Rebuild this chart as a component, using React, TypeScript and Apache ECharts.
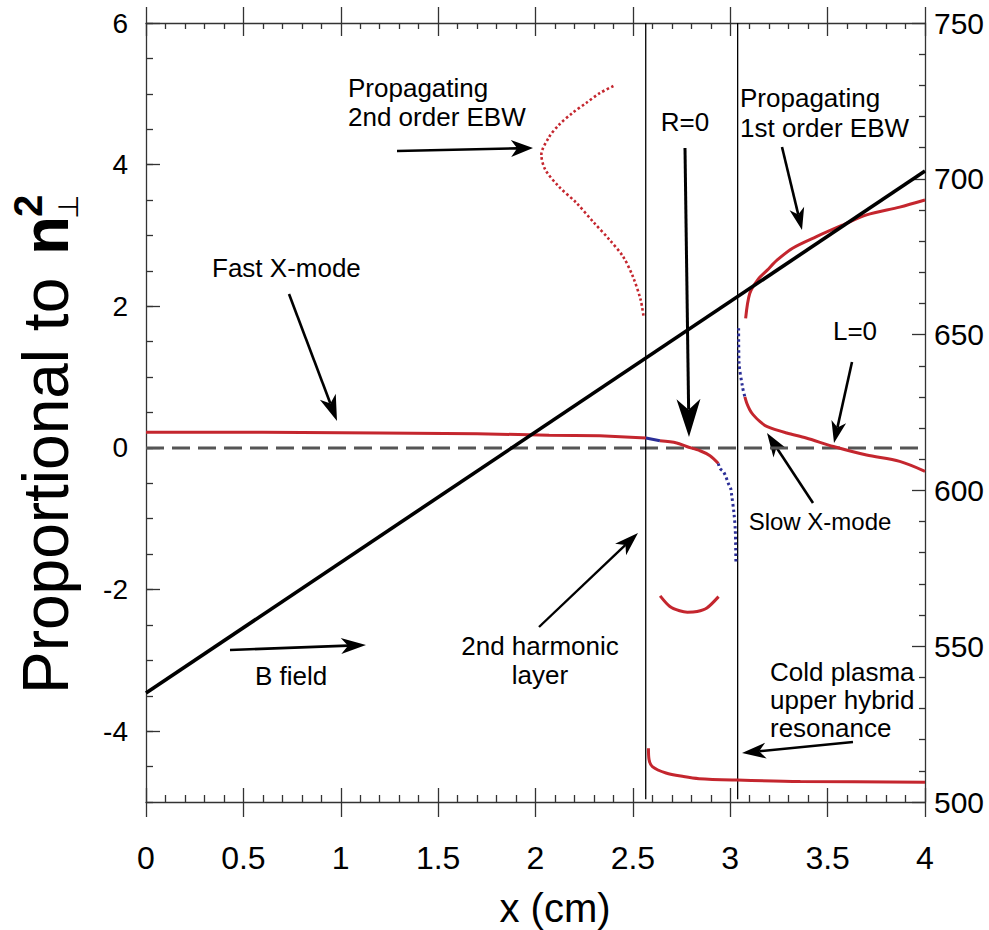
import { useEffect, useRef } from "react";
import * as echarts from "echarts";

// ---- tick labels ----
const xTickValues = [0, 0.5, 1, 1.5, 2, 2.5, 3, 3.5, 4];
const leftTickLabels = [-4, -2, 0, 2, 4, 6];
const rightTickLabels = [500, 550, 600, 650, 700, 750];

// ---- data (x in cm, y proportional to n_perp^2) ----
const fastXRed = [
  [0, 0.22], [0.6, 0.22], [1.2, 0.21], [1.7, 0.2], [2.07, 0.18], [2.33, 0.17], [2.567, 0.14],
];
const fastXBlue = [[2.567, 0.14], [2.639, 0.1]];
const fastXRed2 = [
  [2.639, 0.1], [2.725, 0.07], [2.776, 0.02], [2.845, -0.04], [2.896, -0.11], [2.939, -0.22],
];
const fastXBlue2 = [
  [2.939, -0.22], [2.947, -0.29], [2.964, -0.33], [2.978, -0.41], [2.99, -0.5], [3.002, -0.57],
  [3.007, -0.66], [3.019, -0.92], [3.026, -1.17], [3.029, -1.63],
];
const slowXBlue = [[3.043, 1.69], [3.045, 1.21], [3.063, 0.86], [3.075, 0.72]];
const slowXRed = [
  [3.075, 0.72], [3.085, 0.63], [3.1, 0.54], [3.117, 0.47], [3.153, 0.37], [3.19, 0.3],
  [3.29, 0.21], [3.39, 0.14], [3.53, 0.02], [3.7, -0.1], [3.87, -0.19], [4.0, -0.33],
];
const ebw1 = [
  [3.079, 1.83], [3.1, 2.18], [3.14, 2.37], [3.19, 2.51], [3.24, 2.65], [3.32, 2.82],
  [3.44, 2.98], [3.58, 3.15], [3.7, 3.29], [3.87, 3.4], [4.0, 3.5],
];
const ebw2 = [
  [2.4, 5.11], [2.33, 5.01], [2.26, 4.87], [2.19, 4.73], [2.12, 4.56], [2.07, 4.39], [2.03, 4.14],
  [2.05, 3.93], [2.12, 3.69], [2.21, 3.46], [2.3, 3.18], [2.38, 2.94], [2.45, 2.7], [2.5, 2.42],
  [2.54, 2.09], [2.555, 1.85],
];
const harmonicArc = [
  [2.64, -2.09], [2.69, -2.24], [2.74, -2.3], [2.78, -2.32], [2.83, -2.31], [2.88, -2.26], [2.94, -2.1],
];
const upperHybrid = [
  [2.58, -4.24], [2.583, -4.4], [2.6, -4.5], [2.67, -4.59], [2.76, -4.64], [2.84, -4.67],
  [3.035, -4.69], [3.36, -4.71], [4.0, -4.72],
];
const bField = [[0, 535], [4, 702.5]]; // right axis
const zeroLine = [[0, 0], [4, 0]];
const harmonicLayerX = 2.566;
const uhResonanceX = 3.038;

const RED = "#c4262e";
const BLUE = "#2b2e97";
const FONT = "'Liberation Sans', Arial, Helvetica, sans-serif";

function arrow(x1: number, y1: number, x2: number, y2: number, hl: number, hw: number, lw: number) {
  const dx = x2 - x1, dy = y2 - y1;
  const L = Math.hypot(dx, dy);
  const ux = dx / L, uy = dy / L;
  const px = -uy, py = ux;
  const bx = x2 - ux * hl, by = y2 - uy * hl;
  const nx = x2 - ux * hl * 0.72, ny = y2 - uy * hl * 0.72;
  return [
    { type: "line", silent: true, shape: { x1, y1, x2: nx, y2: ny }, style: { stroke: "#000", lineWidth: lw } },
    {
      type: "polygon", silent: true,
      shape: { points: [[x2, y2], [bx + (px * hw) / 2, by + (py * hw) / 2], [nx, ny], [bx - (px * hw) / 2, by - (py * hw) / 2]] },
      style: { fill: "#000" },
    },
  ];
}

function label(text: string, x: number, y: number, align = "left", size = 26) {
  return {
    type: "text", silent: true, x, y,
    style: { text, fontSize: size, fontFamily: FONT, fill: "#000", align, verticalAlign: "middle" },
  };
}

function curve(data: number[][], color: string, width: number, dash?: number[], smooth = 0) {
  return {
    type: "line", data, xAxisIndex: 0, yAxisIndex: 0, showSymbol: false, smooth,
    lineStyle: { color, width, type: dash ? dash : "solid", cap: "butt" },
    silent: true, z: 3,
  };
}

export default function App() {
  const ref = useRef<HTMLDivElement>(null);
  useEffect(() => {
    if (!ref.current) return;
    const chart = echarts.init(ref.current, undefined, { renderer: "svg" });
    const axisLineStyle = { color: "#333", width: 1.3 };
    const tickStyle = { color: "#333", width: 1.3 };
    const baseX = { type: "value", min: 0, max: 4, interval: 0.5, splitLine: { show: false } };
    const graphics: any[] = [
      // y axis title
      { type: "text", silent: true, x: 46, y: 694, rotation: Math.PI / 2,
        style: { text: "Proportional to", fontSize: 64, fontFamily: FONT, fill: "#000", align: "left", verticalAlign: "middle" } },
      { type: "text", silent: true, x: 46, y: 255, rotation: Math.PI / 2,
        style: { text: "n", fontSize: 64, fontWeight: "bold", fontFamily: FONT, fill: "#000", align: "left", verticalAlign: "middle" } },
      { type: "text", silent: true, x: 28, y: 217, rotation: Math.PI / 2,
        style: { text: "2", fontSize: 40, fontWeight: "bold", fontFamily: FONT, fill: "#000", align: "left", verticalAlign: "middle" } },
      { type: "text", silent: true, x: 68, y: 219, rotation: Math.PI / 2,
        style: { text: "⊥", fontSize: 28, fontFamily: "'DejaVu Sans', sans-serif", fill: "#000", align: "left", verticalAlign: "middle" } },
      // x axis title
      { type: "text", silent: true, x: 555, y: 908,
        style: { text: "x (cm)", fontSize: 40, fontFamily: FONT, fill: "#000", align: "center", verticalAlign: "middle" } },
      // annotations
      label("Propagating", 348, 88),
      label("2nd order EBW", 348, 117),
      ...arrow(397, 151, 533, 148, 22, 17, 2.6),
      label("R=0", 685, 122, "center"),
      ...arrow(685, 148, 689, 437, 38, 24, 3),
      label("Propagating", 740, 98),
      label("1st order EBW", 740, 128),
      ...arrow(782, 147, 802, 230, 22, 15, 2.6),
      label("Fast X-mode", 212, 268),
      ...arrow(289, 294, 337, 421, 26, 17, 2.6),
      label("L=0", 855, 331, "center"),
      ...arrow(852, 362, 834, 443, 22, 15, 2.6),
      label("Slow X-mode", 820, 521, "center", 24),
      ...arrow(813, 503, 767, 433, 24, 16, 2.6),
      label("2nd harmonic", 540, 646, "center"),
      label("layer", 540, 675, "center"),
      ...arrow(539, 627, 638, 533, 24, 16, 2.4),
      label("B field", 291, 676, "center"),
      ...arrow(230, 650, 366, 645, 25, 16, 2.6),
      label("Cold plasma", 770, 672),
      label("upper hybrid", 770, 700),
      label("resonance", 770, 728),
      ...arrow(853, 742, 742, 753, 24, 16, 2.4),
    ];
    chart.setOption({
      animation: false,
      backgroundColor: "#fff",
      grid: { left: 146, right: 64, top: 23, bottom: 128, outerBoundsMode: "none", containLabel: false },
      xAxis: [
        { ...baseX, position: "bottom",
          axisLine: { show: true, onZero: false, lineStyle: axisLineStyle },
          axisTick: { show: true, inside: false, length: 15, lineStyle: tickStyle },
          minorTick: { show: false },
          axisLabel: { show: true, margin: 40, fontSize: 32, color: "#000", fontFamily: FONT, customValues: xTickValues,
            formatter: (v: number) => String(v) } },
        { ...baseX, position: "bottom",
          axisLine: { show: false, onZero: false },
          axisTick: { show: true, inside: true, length: 14, lineStyle: tickStyle },
          minorTick: { show: true, splitNumber: 5, length: 7, lineStyle: tickStyle },
          axisLabel: { show: false } },
        { ...baseX, position: "top",
          axisLine: { show: true, onZero: false, lineStyle: axisLineStyle },
          axisTick: { show: true, inside: true, length: 13, lineStyle: tickStyle },
          minorTick: { show: true, splitNumber: 5, length: 6, lineStyle: tickStyle },
          axisLabel: { show: false } },
        { ...baseX, position: "top",
          axisLine: { show: false, onZero: false },
          axisTick: { show: true, inside: false, length: 16, lineStyle: tickStyle },
          minorTick: { show: false },
          axisLabel: { show: false } },
      ],
      yAxis: [
        { type: "value", position: "left", min: -5, max: 6, interval: 0.5, splitLine: { show: false },
          axisLine: { show: true, onZero: false, lineStyle: axisLineStyle },
          axisTick: { show: true, inside: true, length: 7, lineStyle: tickStyle },
          axisLabel: { show: true, margin: 18, fontSize: 28, color: "#000", fontFamily: FONT, customValues: leftTickLabels,
            formatter: (v: number) => String(v) } },
        { type: "value", position: "left", min: -5, max: 6, splitLine: { show: false },
          axisLine: { show: false, onZero: false },
          axisTick: { show: true, inside: true, length: 14, lineStyle: tickStyle, customValues: leftTickLabels },
          axisLabel: { show: false } },
        { type: "value", position: "right", min: 500, max: 750, interval: 50, splitLine: { show: false },
          axisLine: { show: true, onZero: false, lineStyle: axisLineStyle },
          axisTick: { show: true, inside: true, length: 13, lineStyle: tickStyle },
          minorTick: { show: true, splitNumber: 5, length: 6, lineStyle: tickStyle },
          axisLabel: { show: true, margin: 9, fontSize: 30, color: "#000", fontFamily: FONT, customValues: rightTickLabels,
            formatter: (v: number) => String(v) } },
      ],
      series: [
        { type: "line", data: zeroLine, xAxisIndex: 0, yAxisIndex: 0, showSymbol: false, silent: true, z: 2,
          lineStyle: { color: "#555", width: 3, type: [18, 8] } },
        { type: "line", data: [[harmonicLayerX, 6], [harmonicLayerX, -4.96]], xAxisIndex: 0, yAxisIndex: 0,
          showSymbol: false, silent: true, z: 2, lineStyle: { color: "#000", width: 1.3 } },
        { type: "line", data: [[uhResonanceX, 6], [uhResonanceX, -4.96]], xAxisIndex: 0, yAxisIndex: 0,
          showSymbol: false, silent: true, z: 2, lineStyle: { color: "#000", width: 1.3 } },
        curve(fastXRed, RED, 3),
        curve(fastXBlue, BLUE, 3),
        curve(fastXRed2, RED, 3, undefined, 0.3),
        curve(fastXBlue2, BLUE, 3, [2.5, 3], 0.3),
        curve(slowXBlue, BLUE, 3, [2.5, 3], 0.3),
        curve(slowXRed, RED, 3, undefined, 0.3),
        curve(ebw1, RED, 3, undefined, 0.3),
        curve(ebw2, RED, 2.6, [2.5, 2.5], 0.3),
        curve(harmonicArc, RED, 3, undefined, 0.3),
        curve(upperHybrid, RED, 3, undefined, 0.3),
        { type: "line", data: bField, xAxisIndex: 0, yAxisIndex: 2, showSymbol: false, silent: true, z: 4,
          lineStyle: { color: "#000", width: 3.6 } },
      ],
      graphic: graphics,
    });
    return () => chart.dispose();
  }, []);
  return <div ref={ref} style={{ position: "fixed", left: 0, top: 0, width: 989, height: 930, background: "#fff" }} />;
}
